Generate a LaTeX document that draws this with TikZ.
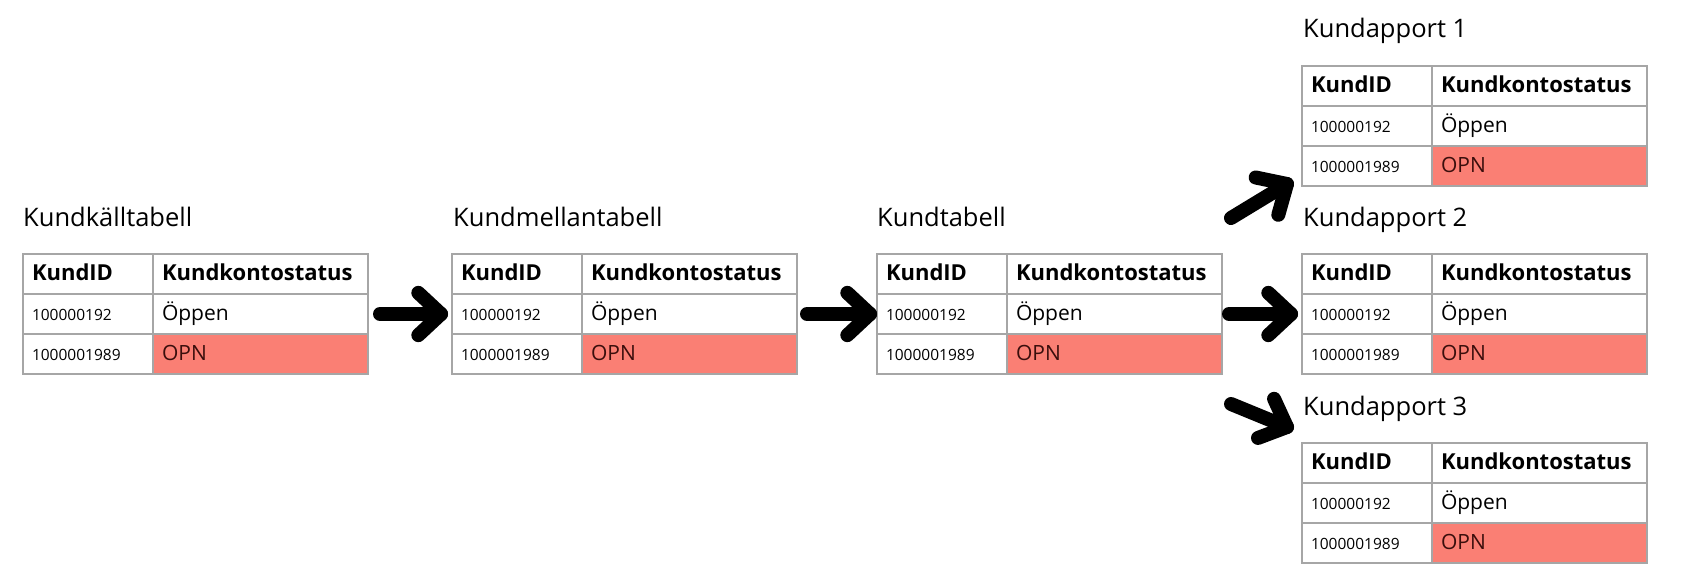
\documentclass[tikz,border=0pt]{standalone}
\usepackage{fontspec}
\setmainfont{Open Sans}
\usetikzlibrary{calc}
\definecolor{gridgray}{HTML}{A6A6A6}
\definecolor{opnred}{HTML}{FA7F74}
\definecolor{opntext}{HTML}{3A0E0C}
\tikzset{
  cell/.style={draw=gridgray, line width=2pt, minimum height=40pt, inner ysep=0pt,
    inner xsep=9pt, outer sep=0pt, anchor=north west, align=left,
    text height=0.714em+5pt, text depth=0pt},
  colA/.style={cell, text width=112pt},
  colB/.style={cell, text width=197pt},
  hdrtext/.style={font=\fontsize{22}{26}\selectfont\bfseries},
  bodytext/.style={font=\fontsize{21}{25}\selectfont},
  numtext/.style={font=\fontsize{15.5}{18}\selectfont},
  ttl/.style={font=\fontsize{25.5}{30}\selectfont, anchor=base west, inner sep=0pt},
  bigarrow/.style={line width=14pt, line cap=round, line join=round}
}
\newcommand\kundtbl[3]{%
  \node[colA, hdrtext] (#1-h1) at (#2,-#3) {KundID};
  \node[colB, hdrtext] (#1-h2) at (#1-h1.north east) {Kundkontostatus};
  \node[colA, numtext] (#1-r1a) at (#1-h1.south west) {100000192};
  \node[colB, bodytext] (#1-r1b) at (#1-r1a.north east) {Öppen};
  \node[colA, numtext] (#1-r2a) at (#1-r1a.south west) {1000001989};
  \node[colB, bodytext, fill=opnred, text=opntext] (#1-r2b) at (#1-r2a.north east) {OPN};
}
\newcommand\chevarrow[3]{% start, tip, arm length
  \draw[bigarrow] (#1) -- (#2);
  \draw[bigarrow] ($(#2)!#3!43:(#1)$) -- (#2) -- ($(#2)!#3!-43:(#1)$);
}
\begin{document}
\begin{tikzpicture}[x=1pt,y=1pt]
  \useasboundingbox[fill=white] (0,0) rectangle (1690,-588);
  % titles
  \node[ttl] (t1) at (23,-227) {Kundkälltabell};
  \node[ttl] (t2) at (453,-227) {Kundmellantabell};
  \node[ttl] (t3) at (877,-227) {Kundtabell};
  \node[ttl] (r1t) at (1303,-38) {Kundapport 1};
  \node[ttl] (r2t) at (1303,-227) {Kundapport 2};
  \node[ttl] (r3t) at (1303,-415) {Kundapport 3};
  % tables
  \kundtbl{ta}{23}{254}
  \kundtbl{tb}{452}{254}
  \kundtbl{tc}{877}{254}
  \kundtbl{ra}{1302}{66}
  \kundtbl{rb}{1302}{254}
  \kundtbl{rc}{1302}{443}
  % arrow coordinates
  \coordinate (a1s) at (380,-314);
  \coordinate (a1e) at (441,-314);
  \coordinate (a2s) at (807,-314);
  \coordinate (a2e) at (870,-314);
  \coordinate (b1s) at (1231,-218);
  \coordinate (b1e) at (1287,-184);
  \coordinate (b2s) at (1229,-314);
  \coordinate (b2e) at (1291,-314);
  \coordinate (b3s) at (1231,-404);
  \coordinate (b3e) at (1287,-427);
  \chevarrow{a1s}{a1e}{31pt}
  \chevarrow{a2s}{a2e}{31pt}
  \chevarrow{b1s}{b1e}{32pt}
  \chevarrow{b2s}{b2e}{31pt}
  \chevarrow{b3s}{b3e}{31pt}
\end{tikzpicture}
\end{document}
